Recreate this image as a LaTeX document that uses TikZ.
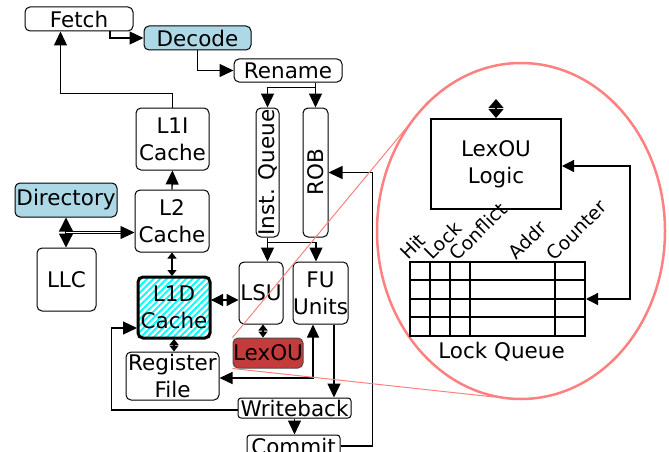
\documentclass[tikz,border=0pt]{standalone}
\usepackage{fontspec}
\setmainfont{DejaVu Sans}
\usepackage{graphicx}
\usetikzlibrary{arrows.meta,calc,patterns.meta}
\definecolor{boxblue}{HTML}{ADD8E6}
\definecolor{lexred}{HTML}{C53B3B}
\definecolor{zoompink}{HTML}{FF8080}
\newcommand{\mainfs}{\fontsize{21.5}{27}\selectfont}
\newcommand{\colfs}{\fontsize{18.8}{22}\selectfont}

\begin{document}
\begin{tikzpicture}[x=1pt,y=-1pt,
  unit/.style={draw, rounded corners=5pt, line width=1pt, inner sep=0pt, align=center, font=\mainfs},
  wire/.style={line width=1.3pt},
  bigtip/.style={wire, -{Triangle[length=14pt,width=13pt]}},
  bigboth/.style={wire, {Triangle[length=14pt,width=14pt]}-{Triangle[length=14pt,width=14pt]}},
  midboth/.style={wire, {Triangle[length=12pt,width=12pt]}-{Triangle[length=12pt,width=12pt]}},
  smallboth/.style={wire, {Triangle[length=6pt,width=9pt]}-{Triangle[length=6pt,width=9pt]}},
  zoomline/.style={zoompink, line width=1pt},
  grid/.style={line width=2pt},
  collabel/.style={font=\colfs, rotate=45, anchor=south west, inner sep=0pt}
]
\useasboundingbox (0,0) rectangle (669,452);

% pipeline stages
\node[unit, minimum width=108pt, minimum height=24pt] (fetch) at (79,19) {Fetch};
\node[unit, fill=boxblue, minimum width=107pt, minimum height=24pt] (decode) at (197.5,38) {Decode};
\node[unit, minimum width=108pt, minimum height=23pt] (rename) at (288,70.5) {Rename};
\node[unit, minimum width=23pt, minimum height=129pt] (iq) at (267.5,172.5) {\rotatebox{90}{Inst. Queue}};
\node[unit, minimum width=25pt, minimum height=129pt] (rob) at (315.5,172.5) {\rotatebox{90}{ROB}};
\node[unit, minimum width=44pt, minimum height=62pt] (lsu) at (261,293) {LSU};
\node[unit, minimum width=55pt, minimum height=62pt] (fu) at (320.5,293) {FU\\Units};
\node[unit, fill=lexred, draw=black!70, minimum width=70pt, minimum height=30pt] (lexou) at (268,353) {LexOU};
\node[unit, rounded corners=3pt, minimum width=113pt, minimum height=20pt] (wb) at (294.5,408) {Writeback};
\node[unit, rounded corners=3pt, minimum width=93pt, minimum height=22pt] (commit) at (293.5,446) {Commit};

% memory hierarchy
\node[unit, minimum width=73pt, minimum height=62pt] (l1i) at (172.5,139) {L1I\\Cache};
\node[unit, minimum width=74pt, minimum height=62pt] (l2) at (172,221) {L2\\Cache};
\node[unit, fill=boxblue, minimum width=102pt, minimum height=34pt] (dir) at (66,200) {Directory};
\node[unit, minimum width=59pt, minimum height=63pt] (llc) at (66.5,279.5) {LLC};
\node[unit, line width=3pt, pattern={Lines[angle=45,distance=4.6pt,line width=2pt]}, pattern color=cyan,
      minimum width=72pt, minimum height=61pt] (l1d) at (174,307.5) {L1D\\Cache};
\node[unit, minimum width=93pt, minimum height=48pt] (reg) at (172.5,376) {Register\\File};

% front end
\draw[bigtip] ($(fetch.south)+(31,0)$) |- (decode.west);
\draw[bigtip] (decode.south) |- (rename.west);
\coordinate (split) at ($(rob.north |- rename.south)$);
\draw[bigtip] (split) -- (rob.north);
\draw[bigtip] (split) -- ++(0,5) -| (iq.north);
\coordinate (fuin) at ($(fu.north)+(-4.5,0)$);
\draw[bigtip] (iq.south) -- (iq.south |- lsu.north);
\draw[bigtip] (iq.south) -- ++(0,5) -| (fuin);
\coordinate (fetchin) at ($(fetch.south west)+(36,0)$);
\draw[bigtip] (l1i.north) -- ++(0,-14) -| (fetchin);

% back end
\coordinate (fuout) at ($(fu.south)+(13.5,0)$);
\draw[bigtip] (fuout) -- (fuout |- wb.north);
\draw[bigtip] (wb.south) -- (wb.south |- commit.north);
\draw[bigtip] (commit.east) -- ++(32,0) |- (rob.east);
\coordinate (fuback) at ($(fu.south)+(-7.5,0)$);
\coordinate (regin) at ($(reg.east)+(0,2)$);
\draw[wire, {Triangle[length=13pt,width=12pt]}-{Triangle[length=13pt,width=12pt]}] (fuback) |- (regin);
\coordinate (l1din) at ($(l1d.west)+(0,20.5)$);
\draw[bigtip] ($(wb.west)+(0,2)$) -- ++(-126,0) |- (l1din);

% cache connections
\draw[bigtip] (l2.north) -- (l1i.south);
\draw[bigboth] (dir.south) -- (dir.south |- llc.north);
\coordinate (dirmid) at ($(dir.south)!0.5!(dir.south |- llc.north)$);
\draw[bigtip, double, double distance=1.2pt, line width=0.7pt] (dirmid) -- (dirmid -| l2.west);
\draw[smallboth] (l2.south) -- (l2.south |- l1d.north);
\coordinate (l1dout) at ($(l1d.east)+(0,-7.5)$);
\draw[midboth] (l1dout) -- (l1dout -| lsu.west);
\draw[smallboth] (l1d.south) -- (l1d.south |- reg.north);
\draw[smallboth] ($(lsu.south)+(2,0)$) -- ($(lsu.south |- lexou.north)+(2,0)$);

% magnified view of the LexOU
\draw[zoompink, line width=2.5pt] (521,231) ellipse [x radius=144, y radius=168];
\draw[zoomline] (lexou.north west) -- (417,115);
\draw[zoomline] (lexou.south west) -- (494,397);

\node[draw, line width=2pt, minimum width=130pt, minimum height=90pt, inner sep=0pt,
      align=center, font=\mainfs] (logic) at (496,164) {LexOU\\Logic};
\draw[wire, {Triangle[length=9pt,width=15pt]}-{Triangle[length=9pt,width=15pt]}]
  ($(logic.north)+(0,-19)$) -- (logic.north);

\node[draw, line width=2pt, minimum width=175pt, minimum height=74pt, inner sep=0pt] (queue) at (497.5,299) {};
\foreach \yy in {280,299,317} \draw[grid] (410,\yy) -- (585,\yy);
\foreach \xx in {430,450,470,555} \draw[grid] (\xx,262) -- (\xx,336);
\node[collabel] at (408,261) {Hit};
\node[collabel] at (433,261) {Lock};
\node[collabel] at (458,262) {Conflict};
\node[collabel] at (517,261) {Addr};
\node[collabel] at (555,262) {Counter};
\node[font=\mainfs, anchor=base, inner sep=0pt] (qlabel) at (501.5,358) {Lock Queue};

\draw[wire, {Triangle[length=12pt,width=12pt]}-{Triangle[length=12pt,width=12pt]}]
  (queue.east) -- ++(44,0) |- ($(logic.east)+(0,2)$);
\end{tikzpicture}
\end{document}
